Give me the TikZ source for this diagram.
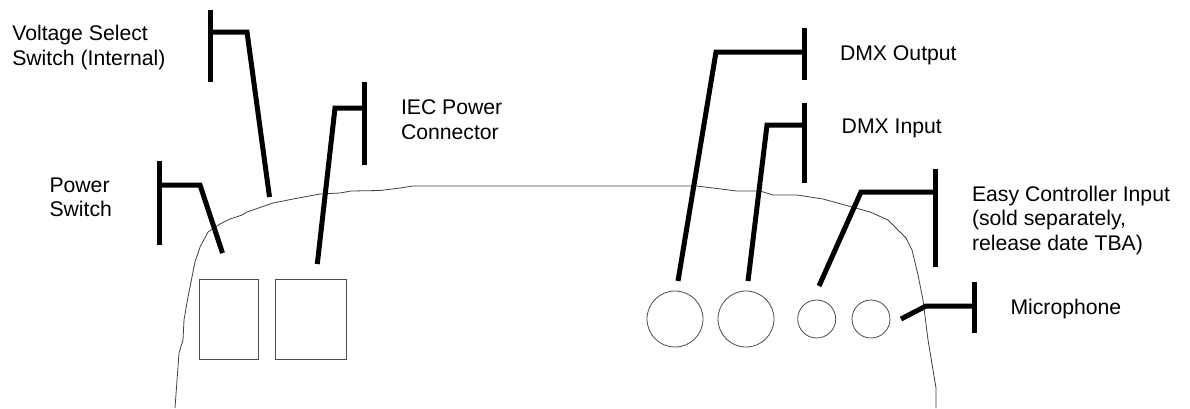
\documentclass[tikz,border=0pt]{standalone}
\usepackage{fontspec}
\setmainfont{Liberation Sans}
\tikzset{
  leader/.style={line width=5pt,line cap=butt,line join=miter,black},
  outlinepart/.style={line width=0.8pt,draw=black!75,line join=round},
  portpart/.style={line width=0.8pt,draw=black!70},
  lbl/.style={inner sep=0pt,outer sep=0pt,font=\fontsize{21.2pt}{24.5pt}\selectfont,align=left,anchor=base west,text=black}
}
\begin{document}
\begin{tikzpicture}[x=1pt,y=-1pt]
\useasboundingbox (0,0) rectangle (1190,408);
% housing outline
\draw[outlinepart] (175,408) -- (179,353) -- (183,340) -- (184,320) -- (188,297) -- (192,277) -- (195,262) -- (200,247) -- (208,232) -- (220,224) -- (230,219) -- (242,215) -- (247,212) -- (273,203) -- (293,199) -- (320,194) -- (340,193) -- (351,191) -- (380,190.5) -- (400,188) -- (413,186) -- (697,186) -- (737,191) -- (760,191) -- (773,195) -- (797,195) -- (823,199) -- (852,207) -- (870,212) -- (888,220) -- (895,227) -- (906,238) -- (912,250) -- (918,275) -- (923,300) -- (928,340) -- (936,388) -- (936,408);
% ports
\node[draw,portpart,minimum width=59pt,minimum height=80pt,inner sep=0pt] (sw) at (228.8,319) {};
\node[draw,portpart,minimum width=71.3pt,minimum height=80pt,inner sep=0pt] (iec) at (310.6,319) {};
\node[draw,portpart,circle,minimum size=56pt,inner sep=0pt] (dmxo) at (675,319) {};
\node[draw,portpart,circle,minimum size=56pt,inner sep=0pt] (dmxi) at (746,319) {};
\node[draw,portpart,circle,minimum size=38pt,inner sep=0pt] (easy) at (816.7,319) {};
\node[draw,portpart,circle,minimum size=38pt,inner sep=0pt] (mic) at (871,319) {};
% leaders
\coordinate (pwT) at (159,161); \coordinate (pwB) at (159,245); \coordinate (pwJ) at (159,185); \coordinate (pwK) at (200,185); \coordinate (pwE) at (222.5,253);
\draw[leader] (pwT) -- (pwB); \draw[leader] (pwJ) -- (pwK) -- (pwE);
\coordinate (voT) at (210,10); \coordinate (voB) at (210,82); \coordinate (voJ) at (210,32); \coordinate (voK) at (247,32); \coordinate (voE) at (269.5,197);
\draw[leader] (voT) -- (voB); \draw[leader] (voJ) -- (voK) -- (voE);
\coordinate (ieT) at (364,82); \coordinate (ieB) at (364,165); \coordinate (ieJ) at (364,108); \coordinate (ieK) at (335,108); \coordinate (ieE) at (317.3,264);
\draw[leader] (ieT) -- (ieB); \draw[leader] (ieJ) -- (ieK) -- (ieE);
\coordinate (doT) at (804,28); \coordinate (doB) at (804,80); \coordinate (doJ) at (804,52); \coordinate (doK) at (716,52); \coordinate (doE) at (678,281);
\draw[leader] (doT) -- (doB); \draw[leader] (doJ) -- (doK) -- (doE);
\coordinate (diT) at (804,103); \coordinate (diB) at (804,183); \coordinate (diJ) at (804,125); \coordinate (diK) at (767,125); \coordinate (diE) at (748,281);
\draw[leader] (diT) -- (diB); \draw[leader] (diJ) -- (diK) -- (diE);
\coordinate (eaT) at (935,169); \coordinate (eaB) at (935,267); \coordinate (eaJ) at (935,192); \coordinate (eaK) at (861,192); \coordinate (eaE) at (819,286);
\draw[leader] (eaT) -- (eaB); \draw[leader] (eaJ) -- (eaK) -- (eaE);
\coordinate (miT) at (974,282); \coordinate (miB) at (974,333); \coordinate (miJ) at (974,306); \coordinate (miK) at (926,306); \coordinate (miE) at (901,319);
\draw[leader] (miT) -- (miB); \draw[leader] (miJ) -- (miK) -- (miE);
% labels
\node[lbl] (tvolt) at (12.3,65) {Voltage Select\\Switch (Internal)};
\node[lbl] (tpow) at (49.5,216.7) {Power\\Switch};
\node[lbl] (tiec) at (401,139) {IEC Power\\Connector};
\node[lbl] (tdo) at (840,60) {DMX Output};
\node[lbl] (tdi) at (841.7,133.3) {DMX Input};
\node[lbl] (tea) at (972,250) {Easy Controller Input\\(sold separately,\\release date TBA)};
\node[lbl] (tmi) at (1010.5,314) {Microphone};
\end{tikzpicture}
\end{document}
